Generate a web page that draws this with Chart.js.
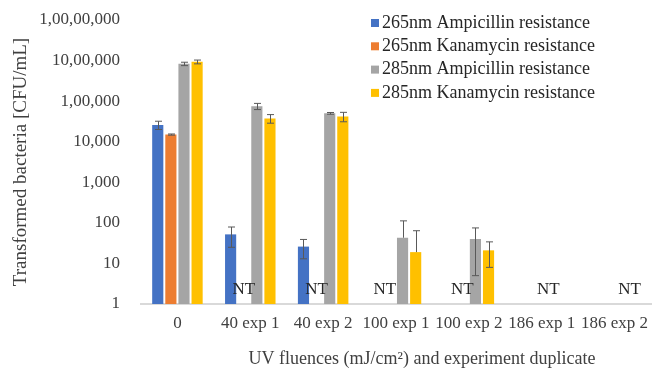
<!DOCTYPE html>
<html>
<head>
<meta charset="utf-8">
<script src="https://cdn.jsdelivr.net/npm/chart.js@4"></script>
<style>
  html, body { margin: 0; padding: 0; background: #fff; }
  #wrap { width: 653px; height: 373px; }
</style>
</head>
<body>
<div id="wrap"><canvas id="myChart" width="653" height="373"></canvas></div>
<script>
const categories = ['0', '40 exp 1', '40 exp 2', '100 exp 1', '100 exp 2', '186 exp 1', '186 exp 2'];

const amp265 = [26000, 52, 26, null, null, null, null];
const amp265Err = [6000, 27, 13, null, null, null, null];
const kan265 = [15000, null, null, null, null, null, null];
const kan265Err = [500, null, null, null, null, null, null];
const amp285 = [830000, 75000, 50000, 43, 40, null, null];
const amp285Err = [80000, 13000, 2500, 69, 35, null, null];
const kan285 = [930000, 37600, 42000, 19, 21, null, null];
const kan285Err = [100000, 9000, 11000, 45, 13, null, null];

// "NT" label per category, given as bar slot (0 = first bar of the group)
const ntSlot = [null, 1, 1, 0.65, 1, 2, 2.65];

const yTicks = [1, 10, 100, 1000, 10000, 100000, 1000000, 10000000];

const serif = "'Liberation Serif', 'Times New Roman', serif";
const xTitle = 'UV fluences (mJ/cm²) and experiment duplicate';

function indianFormat(n) {
    let s = String(Math.round(n));
    if (s.length <= 3) return s;
    let last3 = s.slice(-3);
    let rest = s.slice(0, -3);
    rest = rest.replace(/\B(?=(\d{2})+(?!\d))/g, ',');
    return rest + ',' + last3;
}

const errorBars = {
    id: 'errorBars',
    afterDatasetsDraw(chart) {
        const ctx = chart.ctx;
        const y = chart.scales.y;
        ctx.save();
        ctx.strokeStyle = '#595959';
        ctx.lineWidth = 1;
        chart.data.datasets.forEach((ds, di) => {
            const meta = chart.getDatasetMeta(di);
            meta.data.forEach((bar, i) => {
                const v = ds.data[i];
                const e = ds.errors[i];
                if (v == null || e == null) return;
                const x = Math.round(bar.x) + 0.5;
                const top = y.getPixelForValue(v + e);
                const lowVal = v - e;
                const bot = lowVal > 0 ? y.getPixelForValue(lowVal) : y.getPixelForValue(v);
                ctx.beginPath();
                ctx.moveTo(x, top);
                ctx.lineTo(x, bot);
                ctx.moveTo(x - 3.5, top);
                ctx.lineTo(x + 3.5, top);
                if (lowVal > 0) {
                    ctx.moveTo(x - 3.5, bot);
                    ctx.lineTo(x + 3.5, bot);
                }
                ctx.stroke();
            });
        });
        ctx.restore();
    }
};

const ntLabels = {
    id: 'ntLabels',
    afterDatasetsDraw(chart) {
        const ctx = chart.ctx;
        const xs = chart.scales.x;
        const ys = chart.scales.y;
        const m0 = chart.getDatasetMeta(0).data[0];
        const m1 = chart.getDatasetMeta(1).data[0];
        const step = m1.x - m0.x;
        ctx.save();
        ctx.font = '17px ' + serif;
        ctx.fillStyle = '#262626';
        ctx.textAlign = 'center';
        ctx.textBaseline = 'middle';
        ntSlot.forEach((s, i) => {
            if (s == null) return;
            const x = xs.getPixelForValue(i) + (s - 1.5) * step;
            ctx.fillText('NT', x, ys.getPixelForValue(1) - 14);
        });
        ctx.restore();
    }
};

// legend drawn inside the plot area, top right, plus the x axis title
const sideLegend = {
    id: 'sideLegend',
    afterDraw(chart) {
        const ctx = chart.ctx;
        const area = chart.chartArea;
        const x0 = area.right - 280;
        ctx.save();
        ctx.font = '18px ' + serif;
        ctx.textBaseline = 'middle';
        chart.data.datasets.forEach((ds, i) => {
            const yy = area.top + 3 + i * 23.3;
            ctx.fillStyle = ds.backgroundColor;
            ctx.fillRect(x0, yy - 4, 8, 8);
            ctx.fillStyle = '#262626';
            ctx.fillText(ds.label, x0 + 11, yy);
        });
        ctx.font = '18px ' + serif;
        ctx.fillStyle = '#404040';
        ctx.textAlign = 'center';
        ctx.fillText(xTitle, (area.left + area.right) / 2 + 26, chart.height - 14);
        ctx.restore();
    }
};

const data = {
    labels: categories,
    datasets: [
        { label: '265nm Ampicillin resistance', data: amp265, errors: amp265Err, backgroundColor: '#4472C4' },
        { label: '265nm Kanamycin resistance', data: kan265, errors: kan265Err, backgroundColor: '#ED7D31' },
        { label: '285nm Ampicillin resistance', data: amp285, errors: amp285Err, backgroundColor: '#A5A5A5' },
        { label: '285nm Kanamycin resistance', data: kan285, errors: kan285Err, backgroundColor: '#FFC000' }
    ]
};

const config = {
    type: 'bar',
    data: data,
    options: {
        responsive: false,
        animation: false,
        categoryPercentage: 0.72,
        barPercentage: 0.85,
        layout: { padding: { left: 0, right: 2, top: 20, bottom: 0 } },
        plugins: {
            legend: { display: false },
            tooltip: { enabled: false }
        },
        scales: {
            x: {
                grid: { display: false, drawTicks: false },
                border: { display: true, color: '#d9d9d9', width: 2 },
                ticks: { color: '#404040', font: { family: serif, size: 17 }, padding: 9, maxRotation: 0, autoSkip: false },
                afterFit(scale) {
                    scale.height = 69;
                    scale.paddingLeft = 0;
                    scale.paddingRight = 0;
                }
            },
            y: {
                type: 'logarithmic',
                min: 1,
                max: 10000000,
                grid: { display: false, drawTicks: false },
                border: { display: false },
                afterBuildTicks(scale) { scale.ticks = yTicks.map(v => ({ value: v })); },
                ticks: {
                    color: '#404040',
                    font: { family: serif, size: 17 },
                    padding: 21,
                    callback: v => indianFormat(v)
                },
                title: {
                    display: true,
                    text: 'Transformed bacteria [CFU/mL]',
                    color: '#404040',
                    font: { family: serif, size: 19 },
                    padding: { top: 10, bottom: 0 }
                },
                afterFit(scale) {
                    scale.width = 141;
                    scale.paddingTop = 0;
                    scale.paddingBottom = 0;
                }
            }
        }
    },
    plugins: [errorBars, ntLabels, sideLegend]
};

window.onload = function () {
    const ctx = document.getElementById('myChart').getContext('2d');
    new Chart(ctx, config);
};
</script>
</body>
</html>
